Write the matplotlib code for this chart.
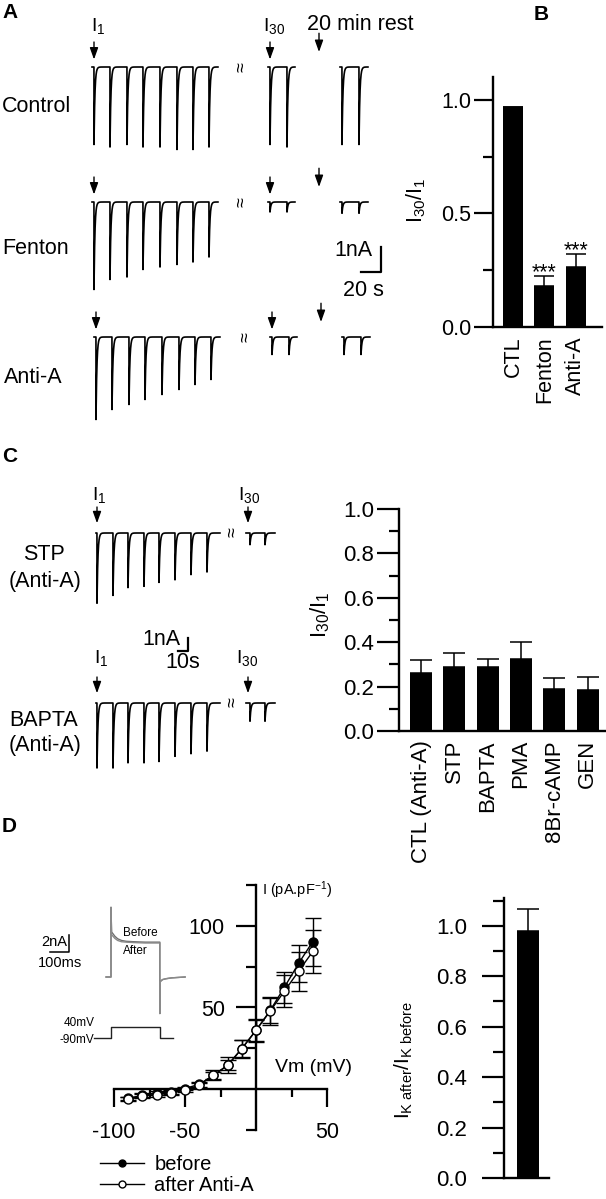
import numpy as np
import matplotlib
matplotlib.use("Agg")
from matplotlib import pyplot as plt
from matplotlib.lines import Line2D

plt.rcParams['font.family'] = 'Liberation Sans'
plt.rcParams['mathtext.fontset'] = 'custom'
plt.rcParams['mathtext.rm'] = 'Liberation Sans'
plt.rcParams['mathtext.it'] = 'Liberation Sans'
plt.rcParams['mathtext.default'] = 'regular'
plt.rcParams['axes.unicode_minus'] = False

W, H = 606, 1199
FS = 15.5

# ---------------- data ----------------
# A: sweep times (s) and peak currents (nA)
a_train_t = [0, 16, 33, 49, 66, 83, 99, 115]
a_i30_t = [176, 193]
a_rest_t = [248, 265]
ctl_amp = [3.1, 3.2, 3.1, 3.2, 3.2, 3.3, 3.3, 3.2]
ctl_i30 = [3.1, 3.2]
ctl_rest = [3.1, 3.1]
fen_amp = [3.5, 3.1, 3.0, 2.7, 2.6, 2.5, 2.4, 2.2]
fen_i30 = [0.4, 0.4]
fen_rest = [0.45, 0.45]
anti_amp = [3.3, 2.9, 2.7, 2.5, 2.3, 2.1, 1.9, 1.7]
anti_i30 = [0.7, 0.7]
anti_rest = [0.7, 0.7]

# B
b_groups = ['CTL', 'Fenton', 'Anti-A']
b_mean = [0.97, 0.18, 0.265]
b_sem = [0.0, 0.045, 0.055]
b_sig = ['', '***', '***']

# C traces
c_train_t = [0, 16, 31, 47, 62, 78, 94, 110]
c_i30_t = [153, 168]
stp_amp = [5.4, 4.8, 4.2, 4.1, 3.8, 3.6, 3.2, 3.0]
stp_i30 = [0.9, 0.9]
bapta_amp = [5.0, 5.0, 4.6, 4.6, 4.5, 4.1, 3.9, 3.7]
bapta_i30 = [1.4, 1.4]

# C bars
c_groups = ['CTL (Anti-A)', 'STP', 'BAPTA', 'PMA', '8Br-cAMP', 'GEN']
c_mean = [0.26, 0.29, 0.29, 0.325, 0.19, 0.185]
c_sem = [0.06, 0.06, 0.035, 0.075, 0.05, 0.06]

# D: I-V
vm = [-90, -80, -70, -60, -50, -40, -30, -20, -10, 0, 10, 20, 30, 40]
i_before = [-5.7, -3.7, -2.6, -1.6, 0.4, 3.0, 8.5, 14.6, 24.8, 36.0, 48.2, 62.4, 77.0, 90.4]
i_before_err = [1.2, 1.2, 1.2, 1.2, 1.2, 1.5, 3.0, 5.0, 5.5, 6.5, 7.5, 9.5, 11.5, 14.7]
i_after = [-6.3, -4.3, -3.3, -2.2, -0.6, 2.4, 8.5, 14.6, 24.8, 36.0, 47.8, 60.0, 72.2, 84.3]
i_after_err = [1.2, 1.2, 1.2, 1.2, 1.2, 1.5, 2.0, 3.0, 5.0, 7.0, 8.8, 9.8, 12.0, 13.4]

# D: inset current traces (ms, nA) and voltage protocol (ms, mV)
inset_t = [-26, 0, 0, 3, 10, 20, 35, 55, 80, 120, 180, 257, 257, 259, 263, 272, 290, 320, 390]
inset_before = [0, 0, 8.2, 5.3, 5.1, 4.8, 4.5, 4.3, 4.2, 4.15, 4.1, 4.1, -4.3, -0.6, -0.45, -0.3, -0.2, -0.1, 0.0]
inset_after = [0, 0, 8.2, 5.0, 4.8, 4.55, 4.3, 4.15, 4.1, 4.05, 4.0, 4.0, -4.3, -0.6, -0.45, -0.3, -0.2, -0.1, 0.0]
prot_t = [-89, 0, 0, 258, 258, 326]
prot_v = [-90, -90, 40, 40, -90, -90]

# D bar
d_mean = [0.98]
d_sem = [0.085]


# ---------------- helpers ----------------
def rect(x0, y0, x1, y1):
    return [x0 / W, 1 - y1 / H, (x1 - x0) / W, (y1 - y0) / H]


def ftext(x, y, s, **kw):
    kw.setdefault('fontsize', FS)
    return fig.text(x / W, 1 - y / H, s, **kw)


def row_axes(x0, x1, y0, y1, xlim, ylim):
    ax = fig.add_axes(rect(x0, y0, x1, y1))
    ax.set_xlim(xlim)
    ax.set_ylim(ylim)
    ax.axis('off')
    return ax


def sweeps(ax, t0, t1, times, amps, tau=0.9):
    t = np.arange(t0, t1, 0.05)
    y = np.zeros_like(t)
    for ti, a in zip(times, amps):
        m = t >= ti
        y[m] -= a * np.exp(-(t[m] - ti) / tau)
    ax.plot(t, y, color='k', lw=1.2, solid_joinstyle='round')


def arrow(ax, x, y_tail, y_tip):
    ax.annotate('', xy=(x, y_tip), xytext=(x, y_tail),
                arrowprops=dict(arrowstyle='-|>,head_length=0.7,head_width=0.25',
                                color='k', lw=1.0, shrinkA=0, shrinkB=0))


def style_bar_axes(ax, lw=1.7):
    for s in ['top', 'right']:
        ax.spines[s].set_visible(False)
    for s in ['left', 'bottom']:
        ax.spines[s].set_linewidth(lw)


fig = plt.figure(figsize=(W / 100, H / 100), dpi=100)

# ---------------- panel A ----------------
ftext(2, 12, 'A', fontweight='bold', fontsize=15, va='center')
ftext(91, 31, r'$I_1$', fontsize=14, va='baseline')
ftext(263, 31, r'$I_{30}$', fontsize=14, va='baseline')
ftext(307, 30, '20 min rest', va='baseline')

rows_a = [(67, 'Control', 107, ctl_amp, ctl_i30, ctl_rest),
          (202, 'Fenton', 248, fen_amp, fen_i30, fen_rest),
          (337, 'Anti-A', 377, anti_amp, anti_i30, anti_rest)]
for k, (bl, name, ly, amp, i30, rest) in enumerate(rows_a):
    shift = 2 if k == 2 else 0
    ax = row_axes(80, 400, bl - 45, bl + 95, (-14 - shift, 306 - shift), (-3.8, 1.8))
    sweeps(ax, a_train_t[0] - 2, a_train_t[-1] + 9, a_train_t, amp)
    sweeps(ax, a_i30_t[0] - 2, a_i30_t[-1] + 8, a_i30_t, i30)
    sweeps(ax, a_rest_t[0] - 2, a_rest_t[-1] + 9, a_rest_t, rest)
    arrow(ax, a_train_t[0], 1.0, 0.3)
    arrow(ax, a_i30_t[0], 1.0, 0.3)
    arrow(ax, 225, 1.35, 0.6)
    ax.text(148 + shift, 0, '\u2248', rotation=90, fontsize=13, ha='center', va='center')
    ftext(2 if k < 2 else 4, ly, name, va='center')
    if k == 1:
        # scale bar: 1 nA, 20 s
        sb_x, sb_y = 287, -2.8
        ax.plot([sb_x - 20, sb_x, sb_x], [sb_y, sb_y, sb_y + 1], color='k', lw=1.6)
        ax.text(sb_x - 9, sb_y + 0.88, '1nA', ha='right', va='center', fontsize=FS)
        ax.text(sb_x - 18, sb_y - 0.72, '20 s', ha='center', va='center', fontsize=FS)

# ---------------- panel B ----------------
ftext(541, 15, 'B', fontweight='bold', fontsize=15, ha='center', va='center')
axB = fig.add_axes(rect(493, 77, 602, 327))
xb = np.arange(len(b_groups))
axB.bar(xb, b_mean, width=0.635, color='k')
axB.errorbar(xb, b_mean, yerr=[np.zeros(len(b_mean)), b_sem], fmt='none', ecolor='k',
             capsize=7.2, elinewidth=1.1, capthick=1.1)
for xi, m, s, sig in zip(xb, b_mean, b_sem, b_sig):
    axB.text(xi, m + s - 0.01, sig, ha='center', va='baseline', fontsize=FS)
axB.set_xlim(-0.635, 2.83)
axB.set_ylim(0, 1.1)
axB.set_yticks([0, 0.5, 1.0])
axB.set_yticklabels(['0.0', '0.5', '1.0'])
axB.set_yticks([0.25, 0.75], minor=True)
axB.set_xticks(xb)
axB.set_xticklabels(b_groups, rotation=90)
axB.tick_params(axis='y', which='major', length=13.7, width=1.6, pad=2, labelsize=FS)
axB.tick_params(axis='y', which='minor', length=7, width=1.6)
axB.tick_params(axis='x', length=0, pad=7, labelsize=FS)
style_bar_axes(axB)
ftext(416, 200, r'$I_{30}/I_1$', rotation=90, ha='center', va='center')

# ---------------- panel C traces ----------------
ftext(2, 457, 'C', fontweight='bold', fontsize=15, va='center')
rows_c = [(533, 'STP', stp_amp, stp_i30, 500, 555, 582),
          (703, 'BAPTA', bapta_amp, bapta_i30, 663, 720, 745)]
for k, (bl, name, amp, i30, iy, ny, ay) in enumerate(rows_c):
    ax = row_axes(85, 300, bl - 75, bl + 80, (-12, 203), (-80 / 13, 75 / 13))
    sweeps(ax, -1, c_train_t[-1] + 13, c_train_t, amp)
    sweeps(ax, c_i30_t[0] - 4, c_i30_t[-1] + 10, c_i30_t, i30)
    arrow(ax, c_train_t[0], 2.0, 0.75)
    arrow(ax, c_i30_t[0] - 2, 2.0, 0.75)
    ax.text(136, 0.05, '\u2248', rotation=90, fontsize=13, ha='center', va='center')
    ftext(92 + k * 2, iy, r'$I_1$', fontsize=14, va='baseline')
    ftext(238 - k * 2, iy, r'$I_{30}$', fontsize=14, va='baseline')
    ftext(44, ny, name, ha='center', va='center')
    ftext(45, ay, '(Anti-A)', ha='center', va='center')
    if k == 1:
        # scale bar: 1 nA, 10 s
        sb_x, sb_y = 91, 4.0
        ax.plot([sb_x - 10, sb_x, sb_x], [sb_y, sb_y, sb_y + 1], color='k', lw=1.6)
        ax.text(sb_x - 8, sb_y + 0.85, '1nA', ha='right', va='center', fontsize=FS)
        ax.text(sb_x - 5.5, sb_y - 0.92, '10s', ha='center', va='center', fontsize=FS)

# ---------------- panel C bars ----------------
axC = fig.add_axes(rect(399, 509, 606, 731))
xc = np.arange(len(c_groups))
axC.bar(xc, c_mean, width=0.66, color='k')
axC.errorbar(xc, c_mean, yerr=[np.zeros(len(c_mean)), c_sem], fmt='none', ecolor='k',
             capsize=7.9, elinewidth=1.1, capthick=1.1)
axC.set_xlim(-0.66, 5.55)
axC.set_ylim(0, 1.0)
axC.set_yticks(np.arange(0, 1.01, 0.2))
axC.set_yticklabels(['%.1f' % v for v in np.arange(0, 1.01, 0.2)])
axC.set_yticks(np.arange(0.1, 1.0, 0.2), minor=True)
axC.set_xticks(xc)
axC.set_xticklabels(c_groups, rotation=90)
axC.tick_params(axis='y', which='major', length=15.8, width=1.6, pad=2, labelsize=16)
axC.tick_params(axis='y', which='minor', length=7.2, width=1.6)
axC.tick_params(axis='x', length=0, pad=6.5, labelsize=16)
style_bar_axes(axC)
ftext(320, 615, r'$I_{30}/I_1$', rotation=90, ha='center', va='center', fontsize=16)

# ---------------- panel D: I-V ----------------
ftext(2, 826, 'D', fontweight='bold', fontsize=15, va='center')
axIV = fig.add_axes(rect(114, 885, 327, 1130))
axIV.set_facecolor('none')
axIV.errorbar(vm, i_before, yerr=i_before_err, fmt='-o', color='k', mfc='k', mec='k',
              ms=6.5, lw=1.0, elinewidth=1.0, capsize=6, capthick=1.0, zorder=3)
axIV.errorbar(vm, i_after, yerr=i_after_err, fmt='-o', color='k', mfc='w', mec='k',
              ms=6.5, lw=1.0, elinewidth=1.0, capsize=6, capthick=1.0, zorder=4)
axIV.set_xlim(-100, 50)
axIV.set_ylim(-25, 125)
axIV.spines['left'].set_position(('data', 0))
axIV.spines['bottom'].set_position(('data', 0))
axIV.spines['top'].set_visible(False)
axIV.spines['right'].set_visible(False)
for s in ['left', 'bottom']:
    axIV.spines[s].set_linewidth(1.7)
axIV.set_xticks([-100, -50, 50])
axIV.set_xticks([-75, -25, 25], minor=True)
axIV.set_yticks([50, 100])
axIV.set_yticks([-25, 25, 75, 125], minor=True)
axIV.tick_params(axis='x', which='major', direction='out', length=13, width=1.6, pad=11, labelsize=FS)
axIV.tick_params(axis='x', which='minor', direction='out', length=6, width=1.6)
axIV.tick_params(axis='y', which='major', direction='out', length=14.4, width=1.6, pad=8, labelsize=FS)
axIV.tick_params(axis='y', which='minor', direction='out', length=7, width=1.6)
ftext(262, 890, r'I (pA.pF$^{-1}$)', fontsize=10.5, va='center')
ftext(275, 1067, 'Vm (mV)', fontsize=14, va='center')

handles = [Line2D([], [], color='k', marker='o', mfc='k', mec='k', ms=5, lw=1.0),
           Line2D([], [], color='k', marker='o', mfc='w', mec='k', ms=5, lw=1.0)]
fig.legend(handles, ['before', 'after Anti-A'], loc='upper left',
           bbox_to_anchor=(100 / W, 1 - 1155 / H), frameon=False, fontsize=14.5,
           handlelength=2.2, handletextpad=0.5, labelspacing=0.1,
           borderpad=0, borderaxespad=0)

# inset: current traces
axI = row_axes(30, 190, 900, 1020, (-(111 - 30) * 100 / 19, (190 - 111) * 100 / 19),
               (-(1020 - 977) * 2 / 17, (977 - 900) * 2 / 17))
axI.plot(inset_t, inset_before, color='#6e6e6e', lw=1.0)
axI.plot(inset_t, inset_after, color='#8a8a8a', lw=1.0)
sb_t, sb_i = -221, 2.94
axI.plot([sb_t - 100, sb_t, sb_t], [sb_i, sb_i, sb_i + 2], color='k', lw=1.1)
axI.text(sb_t - 8, sb_i + 1.15, '2nA', ha='right', va='center', fontsize=10.5)
axI.text(sb_t - 47, sb_i - 1.3, '100ms', ha='center', va='center', fontsize=10.5)
axI.text(63, 5.2, 'Before', ha='left', va='center', fontsize=8.5)
axI.text(63, 3.05, 'After', ha='left', va='center', fontsize=8.5)

# inset: voltage protocol
axV = row_axes(30, 190, 1016, 1046, (-(111 - 30) * 100 / 19, (190 - 111) * 100 / 19),
               (-90 - 8 * 130 / 11, -90 + 22 * 130 / 11))
axV.plot(prot_t, prot_v, color='#222222', lw=1.0)
axV.text(prot_t[0] + 3, 85, '40mV', ha='right', va='center', fontsize=8.5)
axV.text(prot_t[0] - 1, -112, '-90mV', ha='right', va='center', fontsize=8.5)

# ---------------- panel D bar ----------------
axD = fig.add_axes(rect(504, 898, 549, 1178))
axD.bar([0], d_mean, width=0.667, color='k')
axD.errorbar([0], d_mean, yerr=[[0], d_sem], fmt='none', ecolor='k',
             capsize=7.9, elinewidth=1.1, capthick=1.1)
axD.set_xlim(-0.727, 0.636)
axD.set_ylim(0, 1.11)
axD.set_yticks(np.arange(0, 1.01, 0.2))
axD.set_yticklabels(['%.1f' % v for v in np.arange(0, 1.01, 0.2)])
axD.set_yticks(np.arange(0.1, 1.15, 0.2), minor=True)
axD.set_xticks([])
axD.tick_params(axis='y', which='major', length=15.8, width=1.6, pad=11, labelsize=16)
axD.tick_params(axis='y', which='minor', length=8, width=1.6)
style_bar_axes(axD)
ftext(404, 1060, r'$I_{K\ after}/I_{K\ before}$', rotation=90, ha='center', va='center', fontsize=15)

fig.savefig('out.png', dpi=100)
